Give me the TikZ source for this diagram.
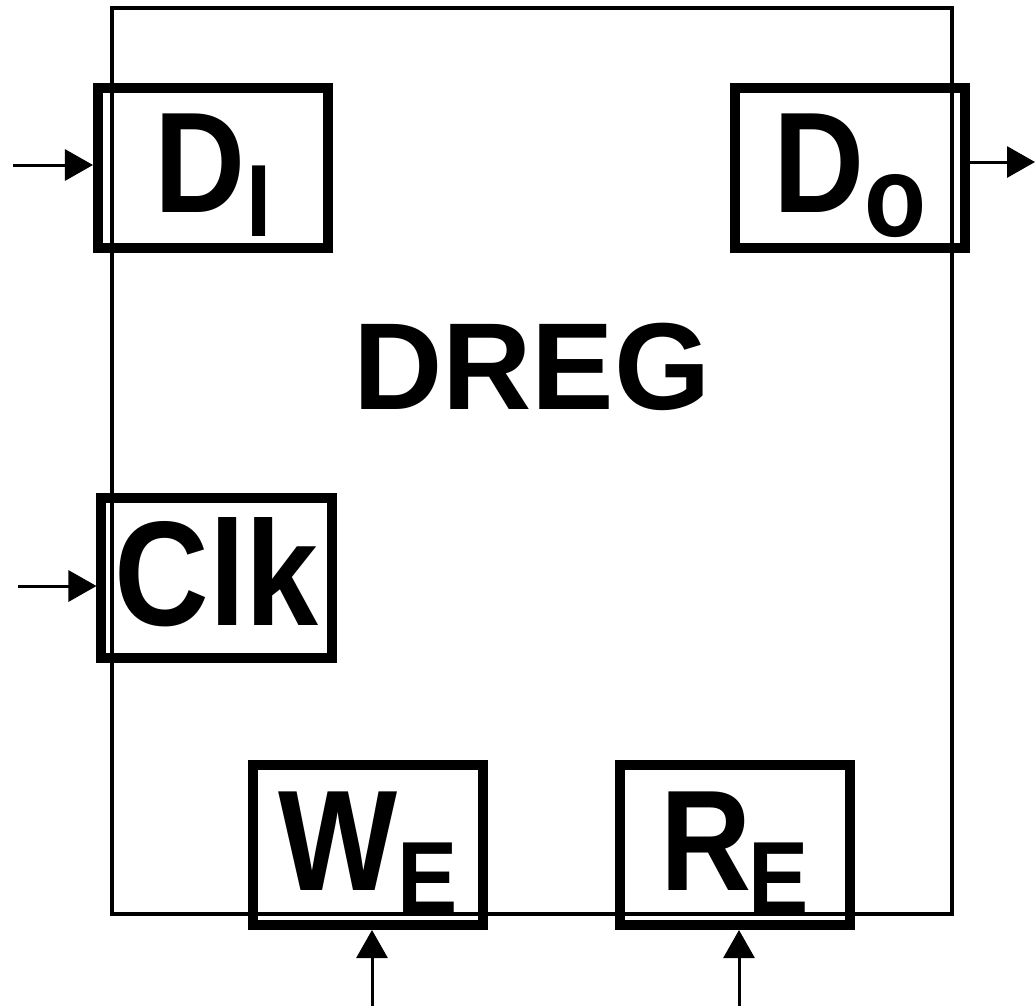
\documentclass[tikz,border=0pt]{standalone}
\usepackage{fontspec}
\setmainfont{Liberation Sans}
\usetikzlibrary{arrows.meta}

\newcommand\portsub[2][73]{\raisebox{-17pt}{\fontsize{#1}{#1}\selectfont #2}}
\newcommand\portlabel[1]{\scalebox{0.88}[1]{#1}}

\begin{document}
\begin{tikzpicture}[
    x=0.25mm, y=-0.25mm,
    regbox/.style={draw=black, line width=1mm, minimum width=210mm,
                   minimum height=226.5mm, inner sep=0pt},
    port/.style={draw=black, line width=2.5mm, minimum width=57.5mm,
                 minimum height=40mm, inner sep=0pt, align=center,
                 text height=70pt, text depth=6pt,
                 font=\fontsize{102}{102}\selectfont\bfseries},
    title/.style={inner sep=0pt, font=\fontsize{88}{88}\selectfont\bfseries},
    sig/.style={draw=black, line width=0.75mm,
                -{Triangle[length=7mm, width=7.75mm]}}
  ]
    \useasboundingbox (0,0) rectangle (1035,1006);

    % Register body.
    \node[regbox] (dreg) at (532,461) {};
    \node[title] (name) at (532,367) {DREG};

    % Ports.
    \node[port] (di) at (213,168) {\portlabel{D\portsub{I}}};
    \node[port] (do) at (850,168) {\portlabel{D\portsub[82]{o}}};
    \node[port, text height=72pt, text depth=4pt,
          font=\fontsize{106}{106}\selectfont\bfseries]
      (clk) at (216.5,577.5) {\portlabel{Clk}};
    \node[port] (we) at (368,845) {\portlabel{W\portsub{E}}};
    \node[port] (re) at (734.5,845) {\portlabel{R\kern-3pt\portsub{E}}};

    % Signal ends.
    \coordinate (diin) at (13,165);
    \coordinate (doout) at (1035,162);
    \coordinate (clkin) at (18,586);
    \coordinate (wein) at (372,1006);
    \coordinate (rein) at (739,1006);

    \draw[sig] (diin) -- (diin -| di.west);
    \draw[sig] (do.east |- doout) -- (doout);
    \draw[sig] (clkin) -- (clkin -| clk.west);
    \draw[sig] (wein) -- (wein |- we.south);
    \draw[sig] (rein) -- (rein |- re.south);
  \end{tikzpicture}
\end{document}
